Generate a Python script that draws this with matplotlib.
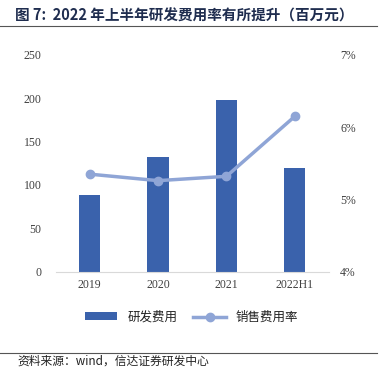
import matplotlib as mpl
import matplotlib.pyplot as plt
import numpy as np

mpl.rcParams["font.family"] = ["Noto Sans CJK SC", "DejaVu Sans"]

YEARS = ["2019", "2020", "2021", "2022H1"]
RD_EXPENSE = [88.5, 132.3, 198.0, 120.0]      # 研发费用 (百万元)
SALES_RATE = [5.35, 5.26, 5.32, 6.15]         # 销售费用率 (%)
LEFT_TICKS = [0, 50, 100, 150, 200, 250]
RIGHT_TICKS = [4, 5, 6, 7]

BAR_C = "#3A62AC"
LINE_C = "#8FA5D6"
TICK_C = "#404040"
SERIF = ["Liberation Serif", "DejaVu Serif"]

fig = plt.figure(figsize=(3.83, 3.87), dpi=100)
ax = fig.add_axes([0.145, 0.298, 0.714, 0.56])
x = np.arange(len(YEARS))
ax.bar(x, RD_EXPENSE, 0.31, color=BAR_C, label="研发费用", zorder=2)
ax.set_xlim(-0.5, 3.5)
ax.set_ylim(0, 250)
ax.set_yticks(LEFT_TICKS)
ax.set_xticks(x)
ax.set_xticklabels(YEARS)
for s in ("top", "right", "left"):
    ax.spines[s].set_visible(False)
ax.spines["bottom"].set_color("#D9D9D9")
ax.tick_params(length=0, colors=TICK_C, labelsize=8.5)
ax.tick_params(axis="y", pad=10)
ax.tick_params(axis="x", pad=5)
for lab in ax.get_xticklabels() + ax.get_yticklabels():
    lab.set_family(SERIF)

ax2 = ax.twinx()
ax2.plot(x, SALES_RATE, color=LINE_C, lw=2.5, marker="o", ms=6, label="销售费用率", zorder=3)
ax2.set_ylim(4, 7)
ax2.set_yticks(RIGHT_TICKS)
ax2.set_yticklabels([f"{t}%" for t in RIGHT_TICKS])
for s in ax2.spines.values():
    s.set_visible(False)
ax2.tick_params(length=0, colors=TICK_C, labelsize=8.5, pad=8)
for lab in ax2.get_yticklabels():
    lab.set_family(SERIF)

h1, l1 = ax.get_legend_handles_labels()
h2, l2 = ax2.get_legend_handles_labels()
fig.legend(h1 + h2, l1 + l2, loc="center", bbox_to_anchor=(0.5, 0.18), ncol=2,
           frameon=False, fontsize=9, handlelength=2.6, handleheight=0.6,
           columnspacing=1.3, labelcolor="#222222")

fig.text(0.04, 0.961, "图 7:  2022 年上半年研发费用率有所提升（百万元）",
         fontsize=10.5, fontweight="bold", color="#1F2D4F", va="center")
fig.add_artist(plt.Line2D([0, 0.985], [0.934, 0.934], color="#555555", lw=0.8))
fig.add_artist(plt.Line2D([0, 0.985], [0.089, 0.089], color="#555555", lw=0.8))
fig.text(0.045, 0.067, "资料来源：wind，信达证券研发中心", fontsize=8.5,
         style="italic", color="#222222", va="center")

fig.savefig("out.png", dpi=100)
